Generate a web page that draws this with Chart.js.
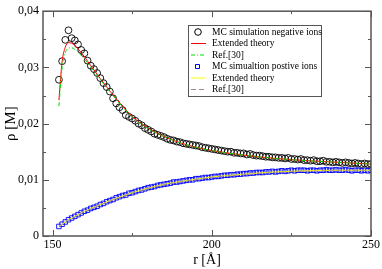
<!DOCTYPE html>
<html>
<head>
<meta charset="utf-8">
<script src="https://cdn.jsdelivr.net/npm/chart.js@4.4.1/dist/chart.umd.min.js"></script>
<style>
  html, body { margin: 0; padding: 0; background: #fff; }
  canvas { display: block; }
</style>
</head>
<body>
<canvas id="rhoChart" width="382" height="269"></canvas>
<script>
// r grid of the MC simulations (Å)
const rMC = [152,153,154,155,156,157,158,159,160,161,162,163,164,165,166,167,168,169,170,171,
  172,173,174,175,176,177,178,179,180,181,182,183,184,185,186,187,188,189,190,191,
  192,193,194,195,196,197,198,199,200,201,202,203,204,205,206,207,208,209,210,211,
  212,213,214,215,216,217,218,219,220,221,222,223,224,225,226,227,228,229,230,231,
  232,233,234,235,236,237,238,239,240,241,242,243,244,245,246,247,248,249,250];

const mcNegative = [0.0278,0.0311,0.0349,0.0366,0.0352,0.0348,0.0341,0.0331,0.0325,0.0312,
  0.0303,0.0297,0.0290,0.0281,0.0272,0.0265,0.0257,0.0245,0.0236,0.0229,
  0.0224,0.0215,0.0212,0.0209,0.0205,0.0200,0.0197,0.0192,0.0189,0.0186,
  0.0182,0.0180,0.0178,0.0176,0.0173,0.0171,0.0170,0.0168,0.0167,0.0165,
  0.0164,0.0163,0.0162,0.0161,0.0160,0.0158,0.0157,0.0156,0.0155,0.0154,
  0.0153,0.0152,0.0151,0.0150,0.0150,0.0148,0.0148,0.0147,0.0147,0.0145,
  0.0146,0.0144,0.0143,0.0143,0.0142,0.0141,0.0141,0.0140,0.0140,0.0139,
  0.0139,0.0138,0.0139,0.0137,0.0137,0.0136,0.0137,0.0135,0.0135,0.0134,
  0.0135,0.0133,0.0133,0.0134,0.0132,0.0132,0.0131,0.0132,0.0131,0.0130,
  0.0131,0.0130,0.0129,0.0130,0.0129,0.0128,0.0129,0.0128,0.0128];

const mcPositive = [0.0017,0.0021,0.0025,0.0029,0.0032,0.0035,0.0038,0.0041,0.0044,0.0046,
  0.0049,0.0051,0.0053,0.0056,0.0058,0.0061,0.0063,0.0065,0.0068,0.0070,
  0.0072,0.0073,0.0076,0.0077,0.0079,0.0081,0.0082,0.0084,0.0086,0.0087,
  0.0088,0.0090,0.0091,0.0092,0.0093,0.0094,0.0096,0.0096,0.0097,0.0098,
  0.0099,0.0100,0.0100,0.0102,0.0102,0.0103,0.0104,0.0104,0.0105,0.0106,
  0.0106,0.0107,0.0108,0.0108,0.0109,0.0109,0.0110,0.0110,0.0111,0.0111,
  0.0112,0.0112,0.0113,0.0113,0.0113,0.0114,0.0114,0.0115,0.0114,0.0115,
  0.0116,0.0115,0.0116,0.0117,0.0116,0.0117,0.0117,0.0117,0.0116,0.0117,
  0.0117,0.0116,0.0117,0.0117,0.0118,0.0117,0.0117,0.0118,0.0117,0.0117,
  0.0118,0.0117,0.0116,0.0117,0.0117,0.0116,0.0117,0.0116,0.0117];

// r grid of the theory curves (Å)
const rTheory = [152,153,154,155,156,157,158,160,162,165,168,170,175,180,185,190,195,200,210,220,230,240,250];
const extNegative = [0.0242,0.0310,0.0336,0.0344,0.0343,0.0339,0.0333,0.0319,0.0303,0.0280,0.0258,0.0244,
  0.0213,0.0192,0.0177,0.0166,0.0158,0.0152,0.0144,0.0138,0.0134,0.0131,0.0128];
const refNegative = [0.0231,0.0300,0.0326,0.0334,0.0335,0.0332,0.0327,0.0315,0.0300,0.0278,0.0257,0.0243,
  0.0212,0.0191,0.0177,0.0166,0.0158,0.0152,0.0144,0.0138,0.0134,0.0131,0.0128];
const extPositive = [0.0017,0.0021,0.0025,0.0029,0.0032,0.0035,0.0038,0.0044,0.0049,0.0056,0.0063,0.0067,
  0.0077,0.0085,0.0092,0.0097,0.0101,0.0105,0.0110,0.0114,0.0116,0.0117,0.0117];
const refPositive = [0.0016,0.0020,0.0024,0.0028,0.0031,0.0034,0.0037,0.0043,0.0048,0.0055,0.0062,0.0066,
  0.0076,0.0084,0.0091,0.0096,0.0100,0.0104,0.0109,0.0113,0.0115,0.0116,0.0116];

const seriesLabels = ['MC simulation negative ions', 'Extended theory', 'Ref.[30]',
  'MC simualtion postive ions', 'Extended theory', 'Ref.[30]'];

const xTicks = [150, 200, 250];
const xMinorTicks = [175, 225];
const yTicks = [0, 0.01, 0.02, 0.03, 0.04];
const yMinorTicks = [0.005, 0.015, 0.025, 0.035];

const serif = 'Liberation Serif, Times New Roman, serif';
const frameColor = '#555';

function pts(xs, ys) {
  return xs.map((x, i) => ({ x: x, y: ys[i] }));
}

// frame, inside ticks on all four sides, and the boxed legend
const framePlugin = {
  id: 'frame',
  afterDraw(chart) {
    const ctx = chart.ctx;
    const a = chart.chartArea;
    const xs = chart.scales.x, ys = chart.scales.y;
    ctx.save();
    ctx.strokeStyle = frameColor;
    ctx.lineWidth = 1.5;
    ctx.strokeRect(a.left, a.top, a.right - a.left, a.bottom - a.top);
    ctx.lineWidth = 1;
    const tick = (vals, len) => {
      vals.forEach(v => {
        const px = Math.round(xs.getPixelForValue(v)) + 0.5;
        ctx.beginPath();
        ctx.moveTo(px, a.bottom); ctx.lineTo(px, a.bottom - len);
        ctx.moveTo(px, a.top); ctx.lineTo(px, a.top + len);
        ctx.stroke();
      });
    };
    const ytick = (vals, len) => {
      vals.forEach(v => {
        const py = Math.round(ys.getPixelForValue(v)) + 0.5;
        ctx.beginPath();
        ctx.moveTo(a.left, py); ctx.lineTo(a.left + len, py);
        ctx.moveTo(a.right, py); ctx.lineTo(a.right - len, py);
        ctx.stroke();
      });
    };
    tick(xTicks, 6); tick(xMinorTicks, 3);
    ytick(yTicks, 6); ytick(yMinorTicks, 3);

    // legend
    const lx = 188, ly = 25, lw = 133, lh = 71, rowH = 11.5;
    ctx.fillStyle = '#fff';
    ctx.fillRect(lx, ly, lw, lh);
    ctx.strokeStyle = frameColor;
    ctx.strokeRect(lx + 0.5, ly + 0.5, lw, lh);
    ctx.font = '9.5px ' + serif;
    ctx.textBaseline = 'middle';
    chart.data.datasets.forEach((ds, i) => {
      const cy = ly + 7 + i * rowH;
      ctx.strokeStyle = ds.borderColor;
      ctx.lineWidth = 1;
      if (ds.showLine === false) {
        ctx.beginPath();
        if (ds.pointStyle === 'rect') {
          ctx.rect(195.5, cy - 2, 4, 4);
        } else {
          ctx.arc(198, cy, 3.3, 0, Math.PI * 2);
        }
        ctx.stroke();
      } else {
        ctx.setLineDash(ds.borderDash || []);
        ctx.beginPath();
        ctx.moveTo(191, cy); ctx.lineTo(206, cy);
        ctx.stroke();
        ctx.setLineDash([]);
      }
      ctx.fillStyle = '#000';
      ctx.fillText(seriesLabels[i], 212, cy);
    });
    ctx.restore();
  }
};

const ctx = document.getElementById('rhoChart').getContext('2d');
new Chart(ctx, {
  type: 'scatter',
  data: {
    datasets: [
      { label: seriesLabels[0], data: pts(rMC, mcNegative), showLine: false, order: 5,
        pointStyle: 'circle', pointRadius: 3.4, borderColor: '#000', backgroundColor: 'rgba(0,0,0,0)', pointBorderWidth: 0.9 },
      { label: seriesLabels[1], data: pts(rTheory, extNegative), showLine: true, order: 2, pointRadius: 0,
        borderColor: '#ff0000', borderWidth: 1, cubicInterpolationMode: 'monotone' },
      { label: seriesLabels[2], data: pts(rTheory, refNegative), showLine: true, order: 1, pointRadius: 0,
        borderColor: '#00dd00', borderWidth: 1, borderDash: [4, 2, 1, 2], cubicInterpolationMode: 'monotone' },
      { label: seriesLabels[3], data: pts(rMC, mcPositive), showLine: false, order: 6,
        pointStyle: 'rect', pointRadius: 3.2, borderColor: '#0000ff', backgroundColor: 'rgba(0,0,0,0)', pointBorderWidth: 0.9 },
      { label: seriesLabels[4], data: pts(rTheory, extPositive), showLine: true, order: 4, pointRadius: 0,
        borderColor: '#ffff00', borderWidth: 1, cubicInterpolationMode: 'monotone' },
      { label: seriesLabels[5], data: pts(rTheory, refPositive), showLine: true, order: 3, pointRadius: 0,
        borderColor: '#a08c8c', borderWidth: 1, borderDash: [5, 3], cubicInterpolationMode: 'monotone' }
    ]
  },
  options: {
    responsive: false,
    animation: false,
    devicePixelRatio: 1,
    layout: { padding: { left: 0, top: 6, right: 10, bottom: 0 } },
    plugins: { legend: { display: false }, tooltip: { enabled: false } },
    scales: {
      x: {
        type: 'linear', min: 147, max: 250,
        grid: { display: false, drawTicks: false },
        border: { display: false },
        afterBuildTicks: s => { s.ticks = xTicks.map(v => ({ value: v })); },
        afterFit: s => { s.height = 33; },
        ticks: { color: '#000', padding: 2, maxRotation: 0, font: { family: serif, size: 12 } },
        title: { display: true, text: 'r [Å]', color: '#000', padding: { top: 0, bottom: 0 }, font: { family: serif, size: 14 } }
      },
      y: {
        type: 'linear', min: 0, max: 0.04,
        grid: { display: false, drawTicks: false },
        border: { display: false },
        afterBuildTicks: s => { s.ticks = yTicks.map(v => ({ value: v })); },
        afterFit: s => { s.width = 43; },
        ticks: { color: '#000', padding: 4, font: { family: serif, size: 12 },
          callback: v => v === 0 ? '0' : v.toFixed(2).replace('.', ',') },
        title: { display: true, text: 'ρ [M]', color: '#000', padding: { top: 2, bottom: 0 }, font: { family: serif, size: 15 } }
      }
    }
  },
  plugins: [framePlugin]
});
</script>
</body>
</html>
